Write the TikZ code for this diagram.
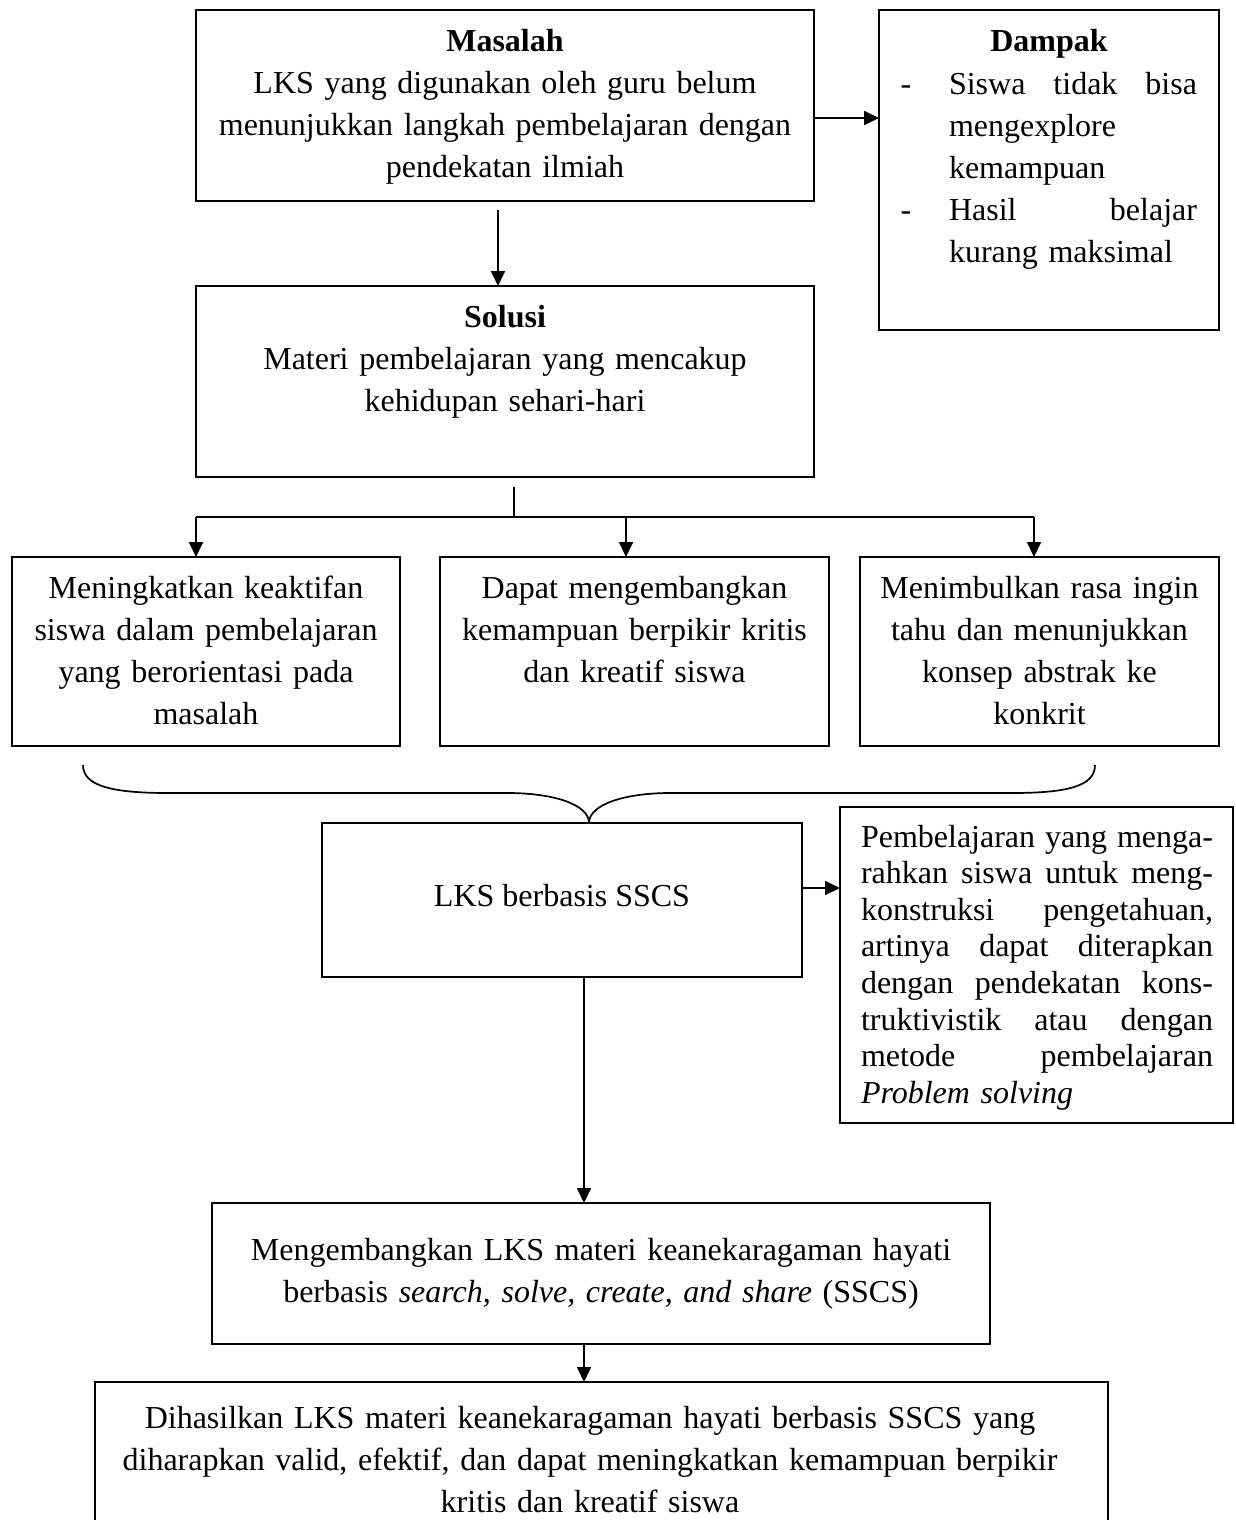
\documentclass[tikz,border=0pt]{standalone}
\usepackage{fontspec}
\setmainfont{Liberation Serif}
\usetikzlibrary{arrows.meta}
\newcommand{\jline}[2]{\leavevmode\makebox[#1][l]{#2}}
\begin{document}
\begin{tikzpicture}[x=1pt,y=-1pt,
  lineb/.style={line width=1.7pt},
  arr/.style={line width=1.7pt,-{Triangle[length=15pt,width=14pt]}},
  box/.style={draw,line width=1.7pt,inner sep=0pt,outer sep=0pt},
  txt/.style={font=\fontsize{32}{42}\selectfont,inner sep=0pt,outer sep=0pt,anchor=base},
  ctxt/.style={txt,align=center},
]
\useasboundingbox (0,0) rectangle (1235,1520);

% boxes
\node[box,minimum width=618pt,minimum height=191pt] (masalah) at (505,105.5) {};
\node[box,minimum width=340pt,minimum height=320pt] (dampak) at (1049,170) {};
\node[box,minimum width=618pt,minimum height=191pt] (solusi) at (505,381.5) {};
\node[box,minimum width=388pt,minimum height=189pt] (b1) at (206,651.5) {};
\node[box,minimum width=389pt,minimum height=189pt] (b2) at (634.5,651.5) {};
\node[box,minimum width=359pt,minimum height=189pt] (b3) at (1039.5,651.5) {};
\node[box,minimum width=480pt,minimum height=154pt] (lks) at (562,900) {};
\node[box,minimum width=393pt,minimum height=316pt] (rbox) at (1036.5,965) {};
\node[box,minimum width=778pt,minimum height=141pt] (dev) at (601,1273.5) {};
\node[box,minimum width=1013pt,minimum height=158pt] (final) at (601.5,1461) {};

% texts
\node[ctxt,text width=610pt] (tmasalah) at (505,52)
  {\textbf{Masalah}\\LKS yang digunakan oleh guru belum\\menunjukkan langkah pembelajaran dengan\\pendekatan ilmiah};
\node[ctxt] (tdampak) at (1049,52) {\textbf{Dampak}};
\node[txt] (d1) at (906,94) {-};
\node[txt] (d2) at (906,220) {-};
\node[txt,anchor=base west,text width=248pt,align=left] (tdampaktext) at (949,94)
  {\jline{248pt}{Siswa\hfill tidak\hfill bisa}\\mengexplore\\kemampuan\\\jline{248pt}{Hasil\hfill belajar}\\kurang maksimal};
\node[ctxt,text width=610pt] (tsolusi) at (505,327)
  {\textbf{Solusi}\\Materi pembelajaran yang mencakup\\kehidupan sehari-hari};
\node[ctxt,text width=380pt] (tb1) at (206,598)
  {Meningkatkan keaktifan\\siswa dalam pembelajaran\\yang berorientasi pada\\masalah};
\node[ctxt,text width=380pt] (tb2) at (634.5,598)
  {Dapat mengembangkan\\kemampuan berpikir kritis\\dan kreatif siswa};
\node[ctxt,text width=350pt] (tb3) at (1039.5,598)
  {Menimbulkan rasa ingin\\tahu dan menunjukkan\\konsep abstrak ke\\konkrit};
\node[ctxt] (tlks) at (562,906) {LKS berbasis SSCS};
\node[txt,anchor=base west,text width=352pt,align=left,font=\fontsize{32}{36.6}\selectfont] (trbox) at (861,847)
  {\jline{352pt}{Pembelajaran\hfill yang\hfill menga-}\\
   \jline{352pt}{rahkan\hfill siswa\hfill untuk\hfill meng-}\\
   \jline{352pt}{konstruksi\hfill pengetahuan,}\\
   \jline{352pt}{artinya\hfill dapat\hfill diterapkan}\\
   \jline{352pt}{dengan\hfill pendekatan\hfill kons-}\\
   \jline{352pt}{truktivistik\hfill atau\hfill dengan}\\
   \jline{352pt}{metode\hfill pembelajaran}\\
   \textit{Problem solving}};
\node[ctxt,text width=770pt] (tdev) at (601,1260)
  {Mengembangkan LKS materi keanekaragaman hayati\\berbasis \textit{search, solve, create, and share} (SSCS)};
\node[ctxt,text width=980pt] (tfinal) at (590,1428)
  {Dihasilkan LKS materi keanekaragaman hayati berbasis SSCS yang\\diharapkan valid, efektif, dan dapat meningkatkan kemampuan berpikir\\kritis dan kreatif siswa};

% connectors
\draw[arr] (masalah.east |- 0,118) -- (dampak.west |- 0,118);
\draw[arr,shorten <=9pt] (masalah.south -| 498,0) -- (solusi.north -| 498,0);

\coordinate (hub) at (514,517);
\coordinate (j1) at (196,517);
\coordinate (j2) at (626,517);
\coordinate (j3) at (1034,517);
\draw[lineb,shorten <=10pt] (solusi.south -| hub) -- (hub);
\draw[lineb] (j1) -- (j3);
\draw[arr] (j1) -- (b1.north -| j1);
\draw[arr] (j2) -- (b2.north -| j2);
\draw[arr] (j3) -- (b3.north -| j3);

% brace
\coordinate (brL) at (83,765);
\coordinate (brR) at (1095,765);
\draw[lineb] (brL) .. controls (83,786) and (112,793) .. (168,793) -- (508,793)
  .. controls (552,793) and (589,804) .. (lks.north -| 589,0);
\draw[lineb] (lks.north -| 589,0) .. controls (589,804) and (626,793) .. (670,793) -- (1012,793)
  .. controls (1068,793) and (1095,786) .. (brR);

\draw[arr] (lks.east |- 0,888) -- (rbox.west |- 0,888);
\draw[arr] (lks.south -| 584,0) -- (dev.north -| 584,0);
\draw[arr] (dev.south -| 584,0) -- (final.north -| 584,0);
\end{tikzpicture}
\end{document}
